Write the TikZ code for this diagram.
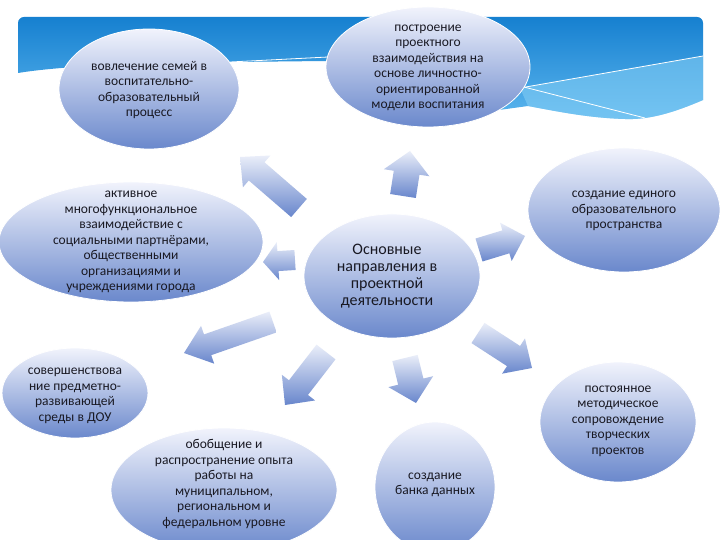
\documentclass[tikz,border=0pt]{standalone}
\usepackage{fontspec}
\setmainfont{Carlito}
\usetikzlibrary{shapes.geometric,calc}
\definecolor{bnTop}{RGB}{22,128,208}
\definecolor{bnBot}{RGB}{92,182,238}
\definecolor{bnLight}{RGB}{135,208,246}
\definecolor{elTop}{RGB}{241,243,252}
\definecolor{elBot}{RGB}{106,136,204}
\definecolor{arTop}{RGB}{234,238,249}
\definecolor{arBot}{RGB}{104,134,204}
\definecolor{txt}{RGB}{25,25,35}
\tikzset{
  oval/.style={ellipse, inner sep=0pt, top color=elTop, bottom color=elBot, draw=white, line width=0.8pt},
  lbl/.style={align=center, text=txt, font=\fontsize{13.5}{15.5}\selectfont, inner sep=0pt},
  biglbl/.style={align=center, text=txt, font=\fontsize{16}{17}\selectfont, inner sep=0pt},
  arrowfill/.style={top color=arTop, bottom color=arBot, draw=none}
}
% block arrow: #1 tail, #2 tip, #3 shaft half width, #4 head half width, #5 head length
\newcommand\blockarr[5]{%
  \coordinate (bh) at ($(#2)!#5!(#1)$);
  \path[arrowfill] ($(#1)!#3!90:(#2)$) -- ($(bh)!#3!90:(#2)$) -- ($(bh)!#4!90:(#2)$)
    -- (#2) -- ($(bh)!#4!-90:(#2)$) -- ($(bh)!#3!-90:(#2)$) -- ($(#1)!#3!-90:(#2)$) -- cycle;
}
\begin{document}
\begin{tikzpicture}[x=1pt,y=-1pt]
\useasboundingbox (0,0) rectangle (720,540);
\fill[white] (0,0) rectangle (720,540);
% banner
\path[top color=bnTop, bottom color=bnBot]
  (18,73) [rounded corners=6pt] -- (18,17) -- (703,17) [sharp corners] -- (703,100)
  .. controls (675,112) and (650,120) .. (625,119)
  .. controls (590,118) and (560,112) .. (528,106)
  -- (470,114) -- (400,105) -- (340,80) -- (326,61) -- (230,62)
  .. controls (150,62) and (60,66) .. (18,73) -- cycle;
\path[fill=bnLight, fill opacity=0.55]
  (520,88) -- (703,56) -- (703,100)
  .. controls (675,112) and (650,120) .. (625,119)
  .. controls (590,118) and (560,112) .. (528,106) -- cycle;
\draw[white, line width=0.8pt] (520,88) -- (703,56);
\draw[white, line width=0.8pt] (520,86) -- (645,118);
\draw[white, line width=0.8pt] (230,62) -- (328,57);
% arrow end points
\coordinate (t1) at (299,208); \coordinate (p1) at (240,157);
\coordinate (t2) at (403,196); \coordinate (p2) at (410,151);
\coordinate (t3) at (479,250); \coordinate (p3) at (525,236);
\coordinate (t4) at (295,260); \coordinate (p4) at (263,262);
\coordinate (t5) at (273,322); \coordinate (p5) at (184,353);
\coordinate (t6) at (326,352); \coordinate (p6) at (285,405);
\coordinate (t7) at (405,358); \coordinate (p7) at (416,403);
\coordinate (t8) at (478,333); \coordinate (p8) at (532,368);
\blockarr{t1}{p1}{12pt}{21pt}{22pt}
\blockarr{t2}{p2}{13pt}{23pt}{22pt}
\blockarr{t3}{p3}{12pt}{20pt}{20pt}
\blockarr{t4}{p4}{10pt}{19pt}{15pt}
\blockarr{t5}{p5}{11pt}{20pt}{25pt}
\blockarr{t6}{p6}{12pt}{21pt}{22pt}
\blockarr{t7}{p7}{13pt}{23pt}{22pt}
\blockarr{t8}{p8}{12pt}{21pt}{22pt}
% ellipses
\node[oval, minimum width=180pt, minimum height=120pt] (e1) at (149,89) {};
\node[oval, minimum width=204pt, minimum height=120pt] (e2) at (428,67) {};
\node[oval, minimum width=192pt, minimum height=124pt] (e3) at (624,210) {};
\node[oval, minimum width=176pt, minimum height=124pt] (e4) at (392,276) {};
\node[oval, minimum width=264pt, minimum height=120pt] (e5) at (131,242) {};
\node[oval, minimum width=146pt, minimum height=90pt] (e6) at (75,393) {};
\node[oval, minimum width=226pt, minimum height=124pt] (e7) at (224,490) {};
\node[oval, minimum width=120pt, minimum height=130pt] (e8) at (435,487) {};
\node[oval, minimum width=156pt, minimum height=120pt] (e9) at (618,422) {};
% texts
\node[lbl] (l1) at (149,90) {вовлечение семей в\\воспитательно-\\образовательный\\процесс};
\node[lbl] (l2) at (428,68) {построение\\проектного\\взаимодействия на\\основе личностно-\\ориентированной\\модели воспитания};
\node[lbl] (l3) at (624,211) {создание единого\\образовательного\\пространства};
\node[biglbl] (l4) at (387,276) {Основные\\направления в\\проектной\\деятельности};
\node[lbl] (l5) at (131,242) {активное\\многофункциональное\\взаимодействие с\\социальными партнёрами,\\общественными\\организациями и\\учреждениями города};
\node[lbl] (l6) at (75,396) {совершенствова\\ние предметно-\\развивающей\\среды в ДОУ};
\node[lbl] (l7) at (224,484) {обобщение и\\распространение опыта\\работы на\\муниципальном,\\региональном и\\федеральном уровне};
\node[lbl] (l8) at (435,485) {создание\\банка данных};
\node[lbl] (l9) at (618,421) {постоянное\\методическое\\сопровождение\\творческих\\проектов};
\end{tikzpicture}
\end{document}
